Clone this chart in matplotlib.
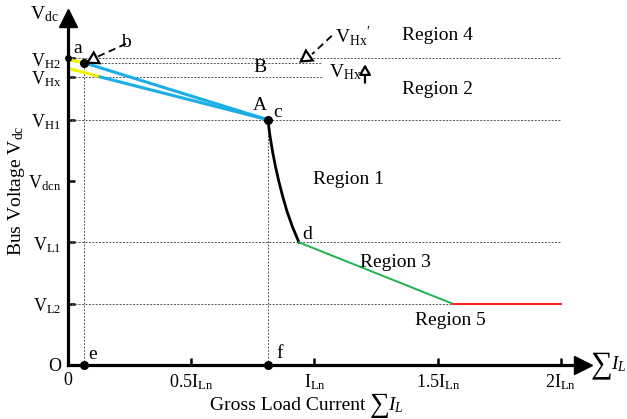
import matplotlib
matplotlib.use("Agg")
import matplotlib.pyplot as plt

plt.rcParams['font.family'] = ['Liberation Serif', 'DejaVu Serif']
plt.rcParams['mathtext.fontset'] = 'custom'
plt.rcParams['mathtext.rm'] = 'Liberation Serif'
plt.rcParams['mathtext.it'] = 'Liberation Serif:italic'

# axis ticks (current in units of I_Ln, voltage levels in arbitrary units)
x_ticks = [0, 0.5, 1, 1.5, 2]
x_labels = ['0', r'$\mathrm{0.5I_{Ln}}$', r'$\mathrm{I_{Ln}}$', r'$\mathrm{1.5I_{Ln}}$', r'$\mathrm{2I_{Ln}}$']
y_ticks = [0, 1, 2, 3, 4, 4.7, 5]
y_labels = ['O', r'$\mathrm{V_{L2}}$', r'$\mathrm{V_{L1}}$', r'$\mathrm{V_{dcn}}$',
            r'$\mathrm{V_{H1}}$', r'$\mathrm{V_{Hx}}$', r'$\mathrm{V_{H2}}$']

# droop segments
yellow_up_x = [0, 0.065]
yellow_up_y = [4.98, 4.93]
blue_up_x = [0.065, 0.811]
blue_up_y = [4.93, 4.0]
yellow_lo_x = [0, 0.13]
yellow_lo_y = [4.84, 4.70]
blue_lo_x = [0.13, 0.811]
blue_lo_y = [4.70, 4.0]
region1_x = [0.811, 0.819, 0.829, 0.841, 0.855, 0.871, 0.889, 0.911, 0.937]
region1_y = [4.0, 3.75, 3.5, 3.25, 3.0, 2.75, 2.5, 2.25, 2.0]
region3_x = [0.937, 1.56]
region3_y = [2.0, 1.0]
region5_x = [1.56, 2.0]
region5_y = [1.0, 1.0]

fig = plt.figure(figsize=(6.27, 4.19), dpi=100)
ax = fig.add_axes([0, 0, 1, 1])
ax.set_xlim(-0.276, 2.268)
ax.set_ylim(-0.881, 5.954)

for s in ['top', 'right']:
    ax.spines[s].set_visible(False)
ax.spines['left'].set_position(('data', 0))
ax.spines['bottom'].set_position(('data', 0))
ax.spines['left'].set_bounds(0, 5.6)
ax.spines['bottom'].set_bounds(0, 2.08)
ax.spines['left'].set_linewidth(2.3)
ax.spines['bottom'].set_linewidth(2.3)
ax.patch.set_visible(False)

ax.set_xticks(x_ticks)
ax.set_xticklabels(x_labels)
ax.set_yticks(y_ticks)
ax.set_yticklabels(y_labels)
ax.tick_params(direction='in', length=5, width=1.8, labelsize=13, pad=5)

# arrow heads of the axes
ax.plot(0, 5.66, marker='^', markersize=13, color='k', clip_on=False)
ax.plot(2.09, 0, marker='>', markersize=13, color='k', clip_on=False)

# dotted guide lines
grid = dict(color='#555555', linestyle=(0, (2, 1.5)), linewidth=0.7)
ax.plot([0, 2.0], [5.0, 5.0], **grid)
ax.plot([0.065, 1.03], [4.93, 4.93], **grid)
ax.plot([0, 1.03], [4.70, 4.70], **grid)
ax.plot([0, 2.0], [4.0, 4.0], **grid)
ax.plot([0, 2.0], [2.0, 2.0], **grid)
ax.plot([0, 1.56], [1.0, 1.0], **grid)
ax.plot([0.065, 0.065], [0, 5.0], **grid)
ax.plot([0.811, 0.811], [0, 4.0], **grid)

# characteristic
ax.plot(yellow_up_x, yellow_up_y, color='#f2f200', lw=2.2, solid_capstyle='butt')
ax.plot(yellow_lo_x, yellow_lo_y, color='#f2f200', lw=2.2, solid_capstyle='butt')
ax.plot(blue_up_x, blue_up_y, color='#1aaee6', lw=2.2)
ax.plot(blue_lo_x, blue_lo_y, color='#1aaee6', lw=2.2)
ax.plot(region1_x, region1_y, color='black', lw=2.0)
ax.plot(region3_x, region3_y, color='#1db44a', lw=1.4)
ax.plot(region5_x, region5_y, color='#ff1a1a', lw=1.4)

# points
ax.plot([0], [5.0], 'ko', markersize=4, clip_on=False)
ax.plot([0.065, 0.811, 0.065, 0.811], [4.93, 4.0, 0, 0], 'ko', markersize=5.5, clip_on=False)

# dashed pointers with open arrow heads
ax.plot([0.235, 0.12], [5.24, 5.03], color='k', lw=1.3, linestyle=(0, (4, 2.5)))
ax.plot(0.1, 4.99, marker=(3, 0, 118), markersize=10, markerfacecolor='white',
        markeredgecolor='k', markeredgewidth=1.6)
ax.plot([1.07, 0.99], [5.37, 5.07], color='k', lw=1.3, linestyle=(0, (4, 2.5)))
ax.plot(0.965, 5.03, marker=(3, 0, 125), markersize=10, markerfacecolor='white',
        markeredgecolor='k', markeredgewidth=1.6)
ax.annotate('', xy=(1.205, 4.95), xytext=(1.205, 4.56),
            arrowprops=dict(arrowstyle='-|>,head_length=0.6,head_width=0.35',
                            fc='white', ec='k', lw=1.6))

# labels
fs = 14
ax.text(-0.095, 5.72, r'$\mathrm{V_{dc}}$', fontsize=fs, ha='center', va='center')
ax.text(-0.21, 2.85, r'Bus Voltage $\mathrm{V_{dc}}$', fontsize=fs, rotation=90,
        ha='center', va='center')
ax.text(1.205, -0.66, 'Gross Load Current', fontsize=fs, ha='right', va='center')
ax.text(1.266, -0.66, '\u2211', fontsize=20, ha='center', va='center')
ax.text(1.30, -0.66, r'$I_L$', fontsize=fs, ha='left', va='center')
ax.text(2.166, 0.0, '\u2211', fontsize=22, ha='center', va='center')
ax.text(2.205, 0.02, r'$I_L$', fontsize=fs, ha='left', va='center')

ax.text(0.04, 5.17, 'a', fontsize=fs, ha='center', va='center')
ax.text(0.235, 5.26, 'b', fontsize=fs, ha='center', va='center')
ax.text(0.78, 4.86, 'B', fontsize=fs, ha='center', va='center')
ax.text(0.78, 4.24, 'A', fontsize=fs, ha='center', va='center')
ax.text(0.85, 4.12, 'c', fontsize=fs, ha='center', va='center')
ax.text(0.97, 2.13, 'd', fontsize=fs, ha='center', va='center')
ax.text(0.10, 0.17, 'e', fontsize=fs, ha='center', va='center')
ax.text(0.86, 0.19, 'f', fontsize=fs, ha='center', va='center')
ax.text(1.085, 5.36, r'$\mathrm{V_{Hx}}^{\prime}$', fontsize=fs, ha='left', va='center')
ax.text(1.06, 4.77, r'$\mathrm{V_{Hx}}$', fontsize=fs, ha='left', va='center')

ax.text(1.50, 5.38, 'Region 4', fontsize=fs, ha='center', va='center')
ax.text(1.50, 4.49, 'Region 2', fontsize=fs, ha='center', va='center')
ax.text(1.14, 3.02, 'Region 1', fontsize=fs, ha='center', va='center')
ax.text(1.33, 1.68, 'Region 3', fontsize=fs, ha='center', va='center')
ax.text(1.55, 0.72, 'Region 5', fontsize=fs, ha='center', va='center')

fig.savefig('out.png', dpi=100)
